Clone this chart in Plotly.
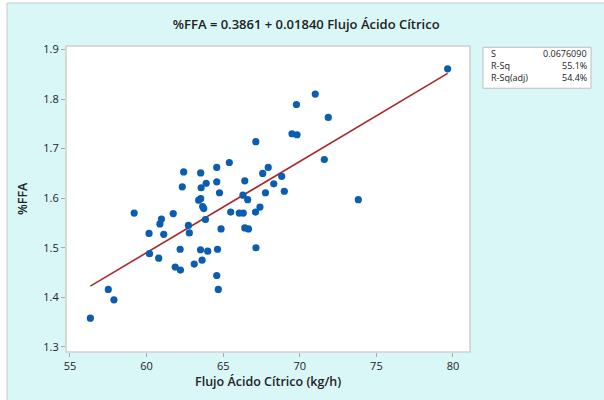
import plotly.graph_objects as go

# Data
flujo = [56.33, 57.50, 57.87, 59.19, 60.16, 60.19, 60.79, 60.87, 60.97, 61.12,
         61.74, 61.87, 62.21, 62.19, 62.33, 62.42, 62.73, 62.79, 63.11, 63.40,
         63.53, 63.53, 63.56, 63.52, 63.62, 63.66, 63.73, 63.84, 63.89, 63.99,
         64.58, 64.58, 64.63, 64.58, 64.68, 64.76, 64.86, 65.40, 65.49, 66.05,
         66.31, 66.29, 66.41, 66.41, 66.65, 66.60, 67.13, 67.11, 67.14, 67.40,
         67.58, 67.76, 67.94, 68.30, 68.82, 68.99, 69.49, 69.82, 69.78, 71.01,
         71.60, 71.86, 73.82, 79.65]
ffa = [1.358, 1.416, 1.395, 1.570, 1.529, 1.488, 1.479, 1.548, 1.558, 1.527,
       1.569, 1.461, 1.455, 1.497, 1.623, 1.653, 1.545, 1.530, 1.467, 1.596,
       1.599, 1.651, 1.621, 1.496, 1.475, 1.583, 1.579, 1.557, 1.630, 1.493,
       1.662, 1.633, 1.497, 1.444, 1.416, 1.611, 1.538, 1.672, 1.572, 1.570,
       1.570, 1.606, 1.635, 1.540, 1.538, 1.597, 1.714, 1.572, 1.500, 1.582,
       1.650, 1.611, 1.662, 1.629, 1.644, 1.614, 1.730, 1.728, 1.789, 1.810,
       1.678, 1.763, 1.597, 1.861]

intercept = 0.3861
slope = 0.01840
stats_labels = ["S", "R-Sq", "R-Sq(adj)"]
stats_values = ["0.0676090", "55.1%", "54.4%"]
x_ticks = [55, 60, 65, 70, 75, 80]
y_ticks = [1.3, 1.4, 1.5, 1.6, 1.7, 1.8, 1.9]

FONT = "Open Sans"
x_line = [min(flujo), max(flujo)]
y_line = [intercept + slope * v for v in x_line]

fig = go.Figure()
fig.add_trace(go.Scatter(x=x_line, y=y_line, mode="lines",
                         line=dict(color="#A8282A", width=1.6), hoverinfo="skip"))
fig.add_trace(go.Scatter(x=flujo, y=ffa, mode="markers",
                         marker=dict(color="#0A5DB0", size=7.2)))

shapes = [
    dict(type="rect", xref="paper", yref="paper", x0=-0.146, x1=1.36, y0=-0.2, y1=1.1405,
         fillcolor="#D9F7F7", line=dict(color="#C4CCCC", width=1), layer="below"),
    dict(type="rect", xref="paper", yref="paper", x0=0, x1=1, y0=0, y1=1,
         fillcolor="white", line=dict(color="#D0D0D0", width=1.5), layer="below"),
    dict(type="rect", xref="paper", yref="paper", x0=1.032, x1=1.2995, y0=0.862, y1=0.9958,
         fillcolor="white", line=dict(color="#BDBDBD", width=1), layer="below"),
]

annotations = []
row_y = [0.976, 0.9356, 0.8964]
for lab, val, yy in zip(stats_labels, stats_values, row_y):
    annotations.append(dict(text=lab, x=1.047, y=yy, xref="paper", yref="paper",
                            xanchor="left", yanchor="middle", showarrow=False,
                            font=dict(family=FONT, size=9, color="#222")))
    annotations.append(dict(text=val, x=1.2946, y=yy, xref="paper", yref="paper",
                            xanchor="right", yanchor="middle", showarrow=False,
                            font=dict(family=FONT, size=9, color="#222")))
annotations.append(dict(text="Flujo Ácido Cítrico (kg/h)", x=0.5, y=-0.098,
                        xref="paper", yref="paper", xanchor="center", yanchor="middle",
                        showarrow=False, font=dict(family=FONT, size=12.5, color="#222", weight=600)))
annotations.append(dict(text="%FFA", x=-0.109, y=0.503, textangle=-90,
                        xref="paper", yref="paper", xanchor="center", yanchor="middle",
                        showarrow=False, font=dict(family=FONT, size=12.5, color="#222", weight=600)))

fig.update_layout(
    width=604, height=400,
    margin=dict(l=66, r=134, t=46, b=48),
    paper_bgcolor="white", plot_bgcolor="rgba(0,0,0,0)",
    showlegend=False,
    title=dict(text="%FFA = 0.3861 + 0.01840 Flujo Ácido Cítrico", x=0.507, xanchor="center",
               y=0.94, yanchor="middle",
               font=dict(family=FONT, size=13, color="#222", weight=600)),
    shapes=shapes, annotations=annotations,
    font=dict(family=FONT),
)
fig.update_xaxes(range=[54.74, 81.11], tickvals=x_ticks, showgrid=False, zeroline=False,
                 showline=False, ticks="outside", ticklen=4, tickcolor="#AAAAAA",
                 tickfont=dict(family=FONT, size=11, color="#222"))
fig.update_yaxes(range=[1.2897, 1.907], tickvals=y_ticks, tickformat=".1f", showgrid=False,
                 zeroline=False, showline=False, ticks="outside", ticklen=4, tickcolor="#AAAAAA",
                 tickfont=dict(family=FONT, size=11, color="#222"))

fig.write_html("out.html", config={"displayModeBar": False},
               post_script="document.body.style.margin='0';document.body.style.overflow='hidden';")
